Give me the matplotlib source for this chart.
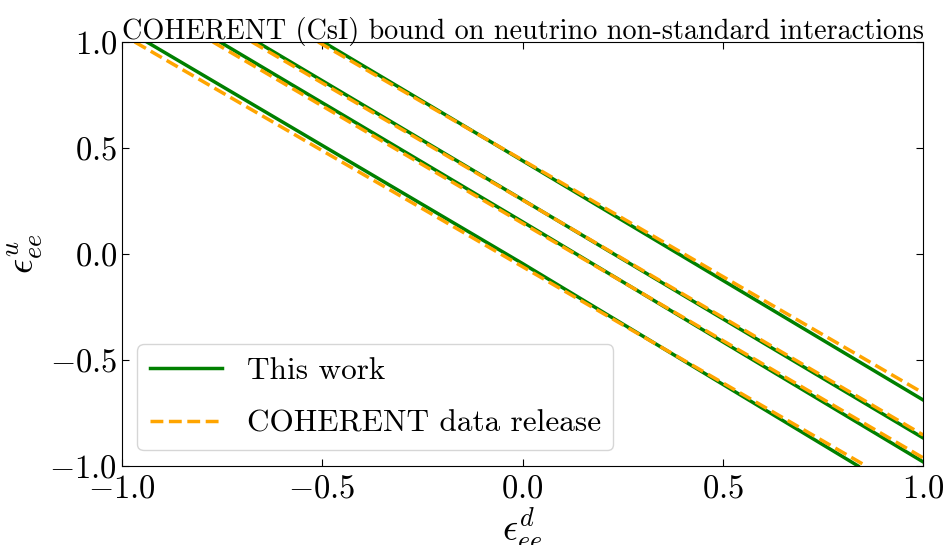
import matplotlib
matplotlib.use("Agg")
import matplotlib.pyplot as plt

# Green (This work) contour lines: points
green_x = [
    [-0.9375, 0.0, 0.8375],
    [-0.755, 0.0, 1.0],
    [-0.6625, 0.0, 1.0],
    [-0.4975, 0.0, 1.0],
]
green_y = [
    [1.0, -0.045, -1.0],
    [1.0, 0.152, -0.981],
    [1.0, 0.256, -0.868],
    [1.0, 0.44, -0.689],
]
# Orange (COHERENT data release) contour lines
orange_x = [
    [-0.9675, 0.0, 0.8575],
    [-0.7725, 0.0, 1.0],
    [-0.675, 0.0, 1.0],
    [-0.51, 0.0, 1.0],
]
orange_y = [
    [1.0, -0.060, -1.0],
    [1.0, 0.145, -0.962],
    [1.0, 0.255, -0.854],
    [1.0, 0.443, -0.656],
]
ticks = [-1.0, -0.5, 0.0, 0.5, 1.0]

plt.rcParams['font.family'] = ['cmr10', 'DejaVu Serif']
plt.rcParams['mathtext.fontset'] = 'cm'
plt.rcParams['axes.formatter.use_mathtext'] = True

fig = plt.figure(figsize=(9.44, 5.45), dpi=100)
ax = fig.add_axes([0.129, 0.145, 0.849, 0.778])

for i, (xs, ys) in enumerate(zip(green_x, green_y)):
    ax.plot(xs, ys, color='green', lw=2.5, label='This work' if i == 0 else None)
for i, (xs, ys) in enumerate(zip(orange_x, orange_y)):
    ax.plot(xs, ys, color='orange', lw=2.5, ls='--',
            label='COHERENT data release' if i == 0 else None)

ax.set_xlim(-1, 1)
ax.set_ylim(-1, 1)
ax.set_xticks(ticks)
ax.set_yticks(ticks)
ax.tick_params(direction='in', top=True, right=True, length=5, labelsize=23.5)
ax.tick_params(axis='x', pad=6)
ax.set_xlabel(r'$\epsilon^d_{ee}$', fontsize=27, labelpad=2)
ax.set_ylabel(r'$\epsilon^u_{ee}$', fontsize=27, labelpad=2)
ax.set_title('COHERENT (CsI) bound on neutrino non-standard interactions', fontsize=20.3, pad=2)
ax.legend(loc='lower left', fontsize=22.5, handlelength=2.3, labelspacing=0.8)

fig.savefig('out.png', dpi=100)
